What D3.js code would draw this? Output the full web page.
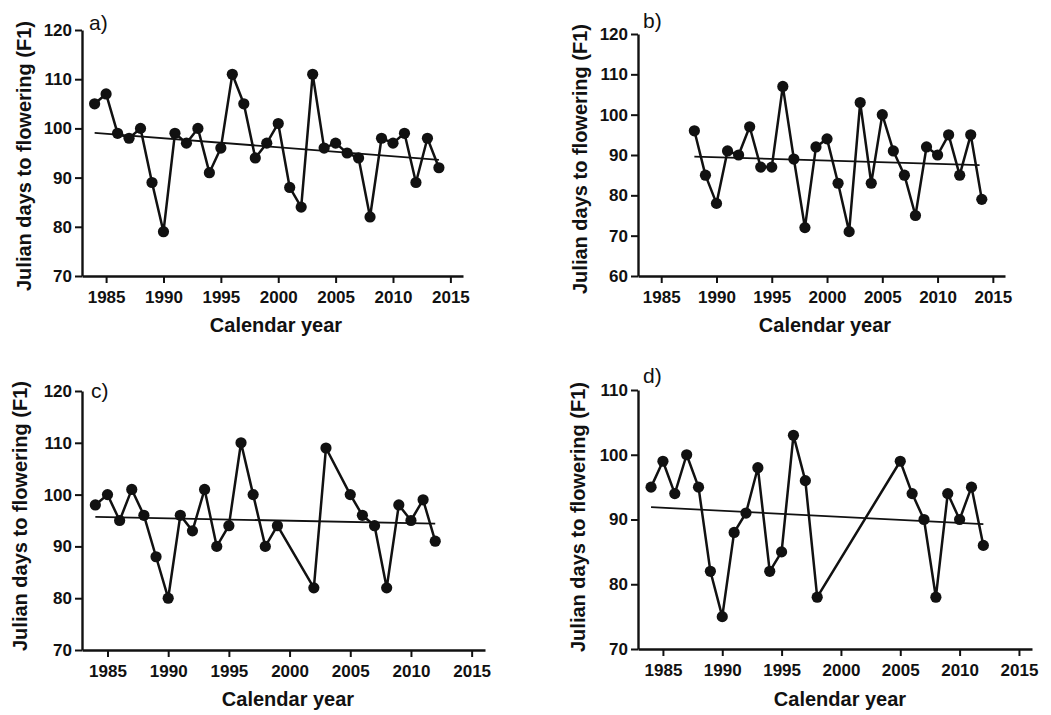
<!DOCTYPE html>
<html>
<head>
<meta charset="utf-8">
<script src="https://cdn.jsdelivr.net/npm/d3@7"></script>
<style>
  body { margin: 0; background: #fff; }
  svg text { font-family: "Liberation Sans", Arial, sans-serif; fill: #111; }
</style>
</head>
<body>
<svg id="chart" width="1051" height="715"></svg>
<script>
// panel a
const yearsA = [1984,1985,1986,1987,1988,1989,1990,1991,1992,1993,1994,1995,1996,1997,1998,1999,
  2000,2001,2002,2003,2004,2005,2006,2007,2008,2009,2010,2011,2012,2013,2014];
const valuesA = [105,107,99,98,100,89,79,99,97,100,91,96,111,105,94,97,
  101,88,84,111,96,97,95,94,82,98,97,99,89,98,92];
const trendA = [[1984, 99.1], [2014, 93.6]];

// panel b
const yearsB = [1988,1989,1990,1991,1992,1993,1994,1995,1996,1997,1998,1999,2000,2001,
  2002,2003,2004,2005,2006,2007,2008,2009,2010,2011,2012,2013,2014];
const valuesB = [96,85,78,91,90,97,87,87,107,89,72,92,94,83,
  71,103,83,100,91,85,75,92,90,95,85,95,79];
const trendB = [[1988, 89.6], [2013.8, 87.5]];

// panel c
const yearsC = [1984,1985,1986,1987,1988,1989,1990,1991,1992,1993,1994,1995,1996,1997,1998,1999,
  2002,2003,2005,2006,2007,2008,2009,2010,2011,2012];
const valuesC = [98,100,95,101,96,88,80,96,93,101,90,94,110,100,90,94,
  82,109,100,96,94,82,98,95,99,91];
const trendC = [[1984, 95.7], [2012, 94.4]];

// panel d
const yearsD = [1984,1985,1986,1987,1988,1989,1990,1991,1992,1993,1994,1995,1996,1997,1998,
  2005,2006,2007,2008,2009,2010,2011,2012];
const valuesD = [95,99,94,100,95,82,75,88,91,98,82,85,103,96,78,
  99,94,90,78,94,90,95,86];
const trendD = [[1984, 91.9], [2012, 89.3]];

const xTicks = [1985,1990,1995,2000,2005,2010,2015];
const yTicksA = [70,80,90,100,110,120];
const yTicksB = [60,70,80,90,100,110,120];
const yTicksC = [70,80,90,100,110,120];
const yTicksD = [70,80,90,100,110];

const yLabel = "Julian days to flowering (F1)";
const xLabel = "Calendar year";

const svg = d3.select("#chart");

const panels = [
  { tag: "a)", years: yearsA, values: valuesA, trend: trendA, yTicks: yTicksA,
    box: { l: 82, r: 463, t: 30, b: 276 }, tagPos: [89, 30], yLabX: 31, yLabY: 156, xLabX: 276, xLabY: 332 },
  { tag: "b)", years: yearsB, values: valuesB, trend: trendB, yTicks: yTicksB,
    box: { l: 638, r: 1005, t: 34, b: 276 }, tagPos: [643, 28], yLabX: 587, yLabY: 159, xLabX: 825, xLabY: 332 },
  { tag: "c)", years: yearsC, values: valuesC, trend: trendC, yTicks: yTicksC,
    box: { l: 82, r: 485, t: 391, b: 650 }, tagPos: [91, 398], yLabX: 27, yLabY: 516, xLabX: 288, xLabY: 706 },
  { tag: "d)", years: yearsD, values: valuesD, trend: trendD, yTicks: yTicksD,
    box: { l: 638, r: 1032, t: 390, b: 649 }, tagPos: [643, 383], yLabX: 585, yLabY: 517, xLabX: 840, xLabY: 706 }
];

panels.forEach(p => {
  const x = d3.scaleLinear().domain([1982.9, 2016.1]).range([p.box.l, p.box.r]);
  const y = d3.scaleLinear().domain(d3.extent(p.yTicks)).range([p.box.b, p.box.t]);
  const g = svg.append("g");

  // axes
  const xAxis = g.append("g")
    .attr("transform", `translate(0,${p.box.b})`)
    .call(d3.axisBottom(x).tickValues(xTicks).tickFormat(d3.format("d"))
      .tickSize(7).tickSizeOuter(0).tickPadding(8));
  const yAxis = g.append("g")
    .attr("transform", `translate(${p.box.l},0)`)
    .call(d3.axisLeft(y).tickValues(p.yTicks).tickSize(7).tickSizeOuter(0).tickPadding(3));

  [xAxis, yAxis].forEach(a => {
    a.attr("font-size", 17).attr("font-weight", "bold");
    a.select(".domain").attr("stroke", "#111").attr("stroke-width", 2.4);
    a.selectAll(".tick line").attr("stroke", "#111").attr("stroke-width", 2);
  });

  // trend line
  g.append("line")
    .attr("x1", x(p.trend[0][0])).attr("y1", y(p.trend[0][1]))
    .attr("x2", x(p.trend[1][0])).attr("y2", y(p.trend[1][1]))
    .attr("stroke", "#111").attr("stroke-width", 1.8);

  // data series
  const pts = p.years.map((yr, i) => [yr, p.values[i]]);
  g.append("path")
    .datum(pts)
    .attr("fill", "none")
    .attr("stroke", "#111")
    .attr("stroke-width", 2.5)
    .attr("stroke-linejoin", "round")
    .attr("d", d3.line().x(d => x(d[0])).y(d => y(d[1])));

  g.selectAll("circle")
    .data(pts)
    .join("circle")
    .attr("cx", d => x(d[0]))
    .attr("cy", d => y(d[1]))
    .attr("r", 5.6)
    .attr("fill", "#111");

  // labels
  g.append("text")
    .attr("x", p.tagPos[0]).attr("y", p.tagPos[1])
    .style("font-size", "21px")
    .text(p.tag);

  g.append("text")
    .attr("transform", `translate(${p.yLabX},${p.yLabY}) rotate(-90)`)
    .attr("text-anchor", "middle")
    .style("font-size", "20px")
    .style("font-weight", "bold")
    .text(yLabel);

  g.append("text")
    .attr("x", p.xLabX).attr("y", p.xLabY)
    .attr("text-anchor", "middle")
    .style("font-size", "20px")
    .style("font-weight", "bold")
    .text(xLabel);
});
</script>
</body>
</html>
